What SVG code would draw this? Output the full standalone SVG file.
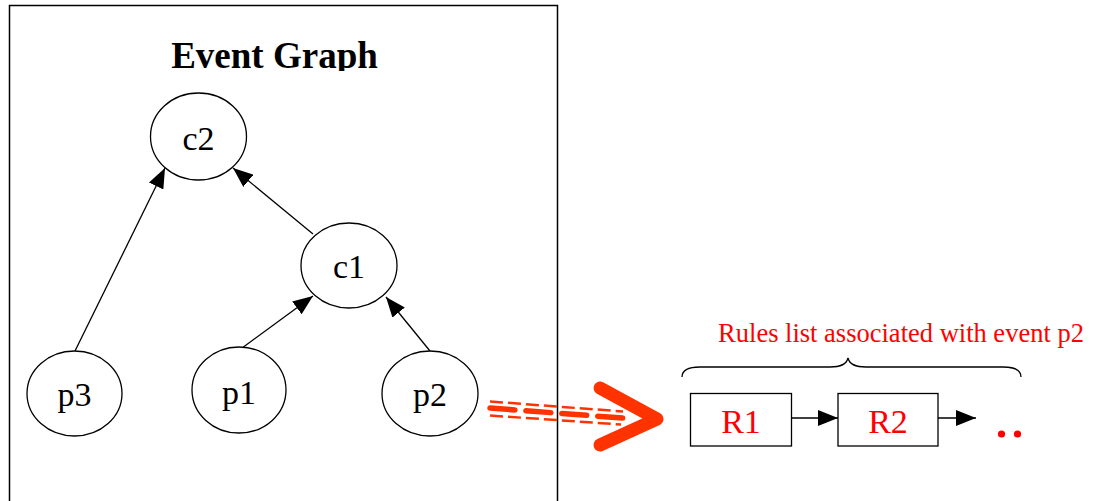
<svg xmlns="http://www.w3.org/2000/svg" width="1093" height="501" viewBox="0 0 1093 501">
  <style>
    .node { fill: #fff; stroke: #000; stroke-width: 1.3; }
    .lbl { font-family: "Liberation Serif", "Times New Roman", serif; font-size: 34px; fill: #000; text-anchor: middle; }
    .red { fill: #ff0000; }
    .edge { stroke: #000; stroke-width: 1.3; fill: none; }
    .hl { stroke: #ff3300; fill: none; }
  </style>
  <defs>
    <marker id="arr" viewBox="0 0 20 16" refX="20" refY="8" markerWidth="20" markerHeight="16" markerUnits="userSpaceOnUse" orient="auto">
      <path d="M0,0 L20,8 L0,16 Z" fill="#000"/>
    </marker>
    <clipPath id="titleClip">
      <rect x="0" y="0" width="557" height="71"/>
    </clipPath>
  </defs>

  <rect width="1093" height="501" fill="#fff"/>

  <!-- frame around the event graph -->
  <path d="M9.5,501 V5.5 H557.5 V501" fill="none" stroke="#000" stroke-width="1.5"/>
  <text x="274.5" y="68" clip-path="url(#titleClip)" style="font-family:'Liberation Serif','Times New Roman',serif;font-size:37px;font-weight:bold;text-anchor:middle">Event Graph</text>

  <g id="connectors">
    <line class="edge" x1="75" y1="351" x2="165" y2="168" marker-end="url(#arr)"/>
    <line class="edge" x1="313" y1="234" x2="233" y2="168" marker-end="url(#arr)"/>
    <line class="edge" x1="238" y1="351" x2="313" y2="296" marker-end="url(#arr)"/>
    <line class="edge" x1="430" y1="351" x2="386" y2="297" marker-end="url(#arr)"/>
    <line class="edge" x1="791" y1="418" x2="838" y2="418" marker-end="url(#arr)"/>
    <line class="edge" x1="938" y1="418" x2="976" y2="418" marker-end="url(#arr)"/>
  </g>

  <g id="c2">
    <ellipse class="node" cx="198.5" cy="136.5" rx="48" ry="43.5"/>
    <text class="lbl" x="198.5" y="149.5">c2</text>
  </g>
  <g id="c1">
    <ellipse class="node" cx="349" cy="265.5" rx="48" ry="42.5"/>
    <text class="lbl" x="349" y="277.5">c1</text>
  </g>
  <g id="p3">
    <ellipse class="node" cx="74.5" cy="393.5" rx="47.5" ry="42.5"/>
    <text class="lbl" x="74.5" y="406">p3</text>
  </g>
  <g id="p1">
    <ellipse class="node" cx="239" cy="390" rx="47" ry="43"/>
    <text class="lbl" x="239" y="404">p1</text>
  </g>
  <g id="p2">
    <ellipse class="node" cx="430" cy="393.5" rx="48" ry="42.5"/>
    <text class="lbl" x="430" y="406">p2</text>
  </g>

  <!-- link from p2 to its rule list -->
  <g id="link">
    <line class="hl" x1="490" y1="401.5" x2="623" y2="411.5" stroke-width="2.5" stroke-dasharray="13 5"/>
    <line class="hl" x1="490" y1="408" x2="628" y2="418.5" stroke-width="5.5" stroke-dasharray="25 11" stroke-linecap="round"/>
    <line class="hl" x1="490" y1="415.5" x2="621" y2="424.5" stroke-width="2.5" stroke-dasharray="13 5"/>
    <polyline class="hl" points="600,388 657,419 600,445" stroke-width="13" stroke-linecap="round" stroke-linejoin="round"/>
  </g>

  <g id="rules">
    <text x="901" y="341.5" class="red" style="font-family:'Liberation Serif','Times New Roman',serif;font-size:26.5px;text-anchor:middle">Rules list associated with event p2</text>
    <path d="M682,377 Q682,367 700,367 L830,367 Q846,367 848,358 Q850,367 866,367 L1003,367 Q1021,367 1021,377" fill="none" stroke="#000" stroke-width="1.3"/>
  </g>
  <g id="R1">
    <rect class="node" x="690.5" y="393.5" width="101" height="52.5"/>
    <text class="lbl red" x="741" y="432.5">R1</text>
  </g>
  <g id="R2">
    <rect class="node" x="838" y="393.5" width="100" height="52.5"/>
    <text class="lbl red" x="888" y="432.5">R2</text>
  </g>
  <g id="more">
    <circle cx="1001.5" cy="434" r="3.6" fill="#ff0000"/>
    <circle cx="1017.5" cy="434" r="3.6" fill="#ff0000"/>
  </g>
</svg>
